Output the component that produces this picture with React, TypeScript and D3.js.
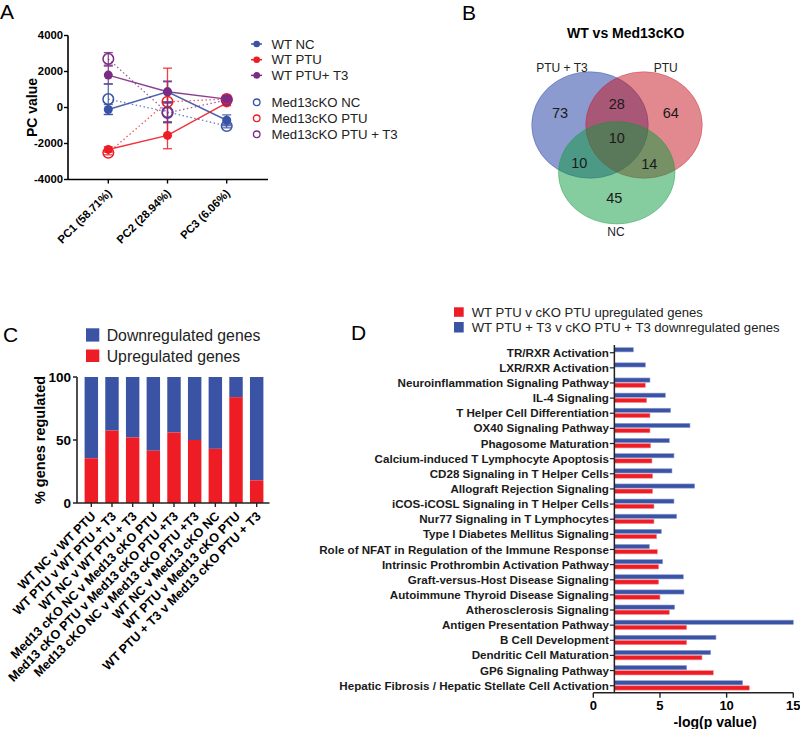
import React from "react";
import * as d3 from "d3";

const FONT = "'Liberation Sans', Arial, Helvetica, sans-serif";
const BLUE = "#3A53A4";
const RED = "#EE1D25";
const PURPLE = "#7B2B83";

// ---------- Panel A data ----------
const pcLabels = ["PC1 (58.71%)", "PC2 (28.94%)", "PC3 (6.06%)"];
const aTicks = [-4000, -2000, 0, 2000, 4000];
const wtNC = [-110, 870, -710];
const wtNCErr = [280, 560, 300];
const wtPTU = [-2330, -1550, 255];
const wtPTUErr = [150, 740, 150];
const wtPTUT3 = [1800, 870, 465];
const wtPTUT3Err = [500, 600, 150];
const koNC = [465, -245, -1030];
const koNCErr = [850, 550, 100];
const koPTU = [-2510, 315, 470];
const koPTUErr = [120, 1870, 200];
const koPTUT3 = [2700, -300, 420];
const koPTUT3Err = [350, 550, 120];
const aNames = ["WT NC", "WT PTU", "WT PTU+ T3", "Med13cKO NC", "Med13cKO PTU", "Med13cKO PTU + T3"];

// ---------- Panel B data ----------
const vennTitle = "WT vs Med13cKO";
const vennSets = ["PTU + T3", "PTU", "NC"];
const vennCounts = [73, 28, 64, 10, 10, 14, 45]; // T3only, T3&PTU, PTUonly, all, T3&NC, PTU&NC, NConly

// ---------- Panel C data ----------
const cLabels = [
  "WT NC v WT PTU",
  "WT PTU v WT PTU + T3",
  "WT NC v WT PTU + T3",
  "Med13 cKO NC v Med13 cKO PTU",
  "Med13 cKO PTU v Med13 cKO PTU +T3",
  "Med13 cKO NC v Med13 cKO PTU +T3",
  "WT NC v Med13 cKO NC",
  "WT PTU v Med13 cKO PTU",
  "WT PTU + T3 v Med13 cKO PTU + T3",
];
const cUp = [35.5, 57.5, 52, 41.5, 56, 50, 43, 84, 18];
const cTicks = [0, 50, 100];

// ---------- Panel D data ----------
const dPathways = [
  "TR/RXR Activation",
  "LXR/RXR Activation",
  "Neuroinflammation Signaling Pathway",
  "IL-4 Signaling",
  "T Helper Cell Differentiation",
  "OX40 Signaling Pathway",
  "Phagosome Maturation",
  "Calcium-induced T Lymphocyte Apoptosis",
  "CD28 Signaling in T Helper Cells",
  "Allograft Rejection Signaling",
  "iCOS-iCOSL Signaling in T Helper Cells",
  "Nur77 Signaling in T Lymphocytes",
  "Type I Diabetes Mellitus Signaling",
  "Role of NFAT in Regulation of the Immune Response",
  "Intrinsic Prothrombin Activation Pathway",
  "Graft-versus-Host Disease Signaling",
  "Autoimmune Thyroid Disease Signaling",
  "Atherosclerosis Signaling",
  "Antigen Presentation Pathway",
  "B Cell Development",
  "Dendritic Cell Maturation",
  "GP6 Signaling Pathway",
  "Hepatic Fibrosis / Hepatic Stellate Cell Activation",
];
const dDown = [3.0, 3.9, 4.25, 5.4, 5.8, 7.25, 5.7, 6.05, 5.9, 7.6, 6.05, 6.25, 5.1, 4.2, 5.2, 6.75, 6.8, 6.1, 15.0, 9.2, 8.8, 7.0, 11.2];
const dUp: (number | null)[] = [null, null, 3.9, 4.0, 4.25, 4.25, 4.3, 4.4, 4.45, 4.45, 4.55, 4.55, 4.75, 4.8, 4.9, 4.9, 5.0, 5.7, 7.0, 7.0, 8.15, 9.0, 11.7];
const dTicks = [0, 5, 10, 15];
const dLegend = ["WT PTU v cKO PTU upregulated genes", "WT PTU + T3 v cKO PTU + T3 downregulated genes"];

function PanelA() {
  const x = d3.scalePoint<number>().domain([0, 1, 2]).range([108.3, 226.7]);
  const y = d3.scaleLinear().domain([-4000, 4000]).range([179.5, 35.5]);
  const series = [
    { name: aNames[0], v: wtNC, e: wtNCErr, c: BLUE, open: false },
    { name: aNames[1], v: wtPTU, e: wtPTUErr, c: RED, open: false },
    { name: aNames[2], v: wtPTUT3, e: wtPTUT3Err, c: PURPLE, open: false },
    { name: aNames[3], v: koNC, e: koNCErr, c: BLUE, open: true },
    { name: aNames[4], v: koPTU, e: koPTUErr, c: RED, open: true },
    { name: aNames[5], v: koPTUT3, e: koPTUT3Err, c: PURPLE, open: true },
  ];
  const line = d3
    .line<number>()
    .x((_, i) => x(i)!)
    .y((d) => y(d));
  const axX = 68;
  const axEnd = 268;
  return (
    <g fontFamily={FONT}>
      <text x={0} y={18.5} fontSize={21}>A</text>
      {/* y axis */}
      <line x1={axX} x2={axX} y1={y(4000)} y2={y(-4000)} stroke="#000" strokeWidth={1.6} />
      {aTicks.map((t) => (
        <g key={t}>
          <line x1={axX - 4} x2={axX} y1={y(t)} y2={y(t)} stroke="#000" strokeWidth={1.4} />
          <text x={axX - 5} y={y(t)} dy="0.35em" textAnchor="end" fontSize={11.3} fontWeight="bold">{t}</text>
        </g>
      ))}
      <text transform={`translate(32,${y(0)}) rotate(-90)`} textAnchor="middle" dy="0.35em" fontSize={14} fontWeight="bold">PC value</text>
      {/* x axis */}
      <line x1={axX} x2={axEnd} y1={y(-4000)} y2={y(-4000)} stroke="#000" strokeWidth={1.6} />
      {pcLabels.map((l, i) => (
        <g key={l}>
          <line x1={x(i)} x2={x(i)} y1={y(-4000)} y2={y(-4000) + 4} stroke="#000" strokeWidth={1.4} />
          <text transform={`translate(${x(i)! + 4},${194}) rotate(-45)`} textAnchor="end" fontSize={11.3} fontWeight="bold">{l}</text>
        </g>
      ))}
      {/* lines */}
      {series.map((s) => (
        <path key={s.name + "l"} d={line(s.v)!} fill="none" stroke={s.c}
          strokeWidth={s.open ? 1.3 : 1.5}
          strokeDasharray={s.open ? "1.5,2.5" : undefined}
          strokeOpacity={s.open ? 0.75 : 0.9} />
      ))}
      {/* error bars */}
      {series.map((s) =>
        s.v.map((v, i) => (
          <g key={s.name + "e" + i} stroke={s.c} strokeWidth={1.3} strokeOpacity={0.85}>
            <line x1={x(i)} x2={x(i)} y1={y(v + s.e[i])} y2={y(v - s.e[i])} />
            <line x1={x(i)! - 4.5} x2={x(i)! + 4.5} y1={y(v + s.e[i])} y2={y(v + s.e[i])} />
            <line x1={x(i)! - 4.5} x2={x(i)! + 4.5} y1={y(v - s.e[i])} y2={y(v - s.e[i])} />
          </g>
        ))
      )}
      {/* markers */}
      {series.map((s) =>
        s.v.map((v, i) =>
          s.open ? (
            <circle key={s.name + "m" + i} cx={x(i)} cy={y(v)} r={5.3} fill="none" stroke={s.c} strokeWidth={1.5} />
          ) : (
            <circle key={s.name + "m" + i} cx={x(i)} cy={y(v)} r={4.5} fill={s.c} />
          )
        )
      )}
      {/* legend */}
      {series.map((s, i) => {
        const ly = i < 3 ? 44 + i * 15.7 : 102.3 + (i - 3) * 16;
        return (
          <g key={s.name + "lg"}>
            {s.open ? (
              <circle cx={256.7} cy={ly} r={3.3} fill="none" stroke={s.c} strokeWidth={1.3} />
            ) : (
              <>
                <line x1={251} x2={262} y1={ly} y2={ly} stroke={s.c} strokeWidth={1.5} />
                <circle cx={256.7} cy={ly} r={3.3} fill={s.c} />
              </>
            )}
            <text x={271.5} y={ly} dy="0.35em" fontSize={13.2} fill="#222">{s.name}</text>
          </g>
        );
      })}
    </g>
  );
}

function PanelB() {
  const circles = [
    { cx: 590, cy: 125, rx: 58.3, ry: 53.3, fill: "#19379F" },
    { cx: 644, cy: 125, rx: 58.3, ry: 53.3, fill: "#C5131F" },
    { cx: 616.7, cy: 172.8, rx: 58.3, ry: 51.2, fill: "#0B993D" },
  ];
  const countPos = [
    [560, 113.3],
    [616.7, 104],
    [670.7, 113.3],
    [616.7, 138.3],
    [579.3, 163.3],
    [649.3, 164.3],
    [614.3, 198.3],
  ];
  const labelPos = [
    [562, 67.7],
    [665.7, 67.7],
    [616, 231.7],
  ];
  return (
    <g fontFamily={FONT}>
      <text x={462} y={20} fontSize={21}>B</text>
      <text x={625.7} y={33} dy="0.35em" textAnchor="middle" fontSize={14} fontWeight="bold">{vennTitle}</text>
      {circles.map((c, i) => (
        <ellipse key={i} cx={c.cx} cy={c.cy} rx={c.rx} ry={c.ry} fill={c.fill} fillOpacity={0.5} stroke={c.fill} strokeOpacity={0.35} strokeWidth={1} />
      ))}
      {vennCounts.map((n, i) => (
        <text key={i} x={countPos[i][0]} y={countPos[i][1]} dy="0.35em" textAnchor="middle" fontSize={14.5} fill="#1a1a1a">{n}</text>
      ))}
      {vennSets.map((s, i) => (
        <text key={s} x={labelPos[i][0]} y={labelPos[i][1]} dy="0.35em" textAnchor="middle" fontSize={12} fill="#222">{s}</text>
      ))}
    </g>
  );
}

function PanelC() {
  const x = d3.scaleBand<string>().domain(cLabels).range([81.5, 266.5]).paddingInner(0.35).paddingOuter(0.15);
  const y = d3.scaleLinear().domain([0, 100]).range([503, 377]);
  const axX = 77;
  return (
    <g fontFamily={FONT}>
      <text x={3} y={342} fontSize={21}>C</text>
      {/* legend */}
      <rect x={86} y={328.3} width={13.3} height={13.3} fill={BLUE} />
      <text x={106.7} y={335} dy="0.35em" fontSize={15.8} fill="#222">Downregulated genes</text>
      <rect x={86} y={349.5} width={13.3} height={12.5} fill={RED} />
      <text x={106.7} y={356} dy="0.35em" fontSize={15.8} fill="#222">Upregulated genes</text>
      {/* bars */}
      {cLabels.map((l, i) => (
        <g key={l}>
          <rect x={x(l)} width={x.bandwidth()} y={y(100)} height={y(cUp[i]) - y(100)} fill={BLUE} />
          <rect x={x(l)} width={x.bandwidth()} y={y(cUp[i])} height={y(0) - y(cUp[i])} fill={RED} />
        </g>
      ))}
      {/* axes */}
      <line x1={axX} x2={axX} y1={y(100)} y2={y(0)} stroke="#222" strokeWidth={1.6} />
      {cTicks.map((t) => (
        <g key={t}>
          <line x1={axX - 4} x2={axX} y1={y(t)} y2={y(t)} stroke="#222" strokeWidth={1.5} />
          <text x={axX - 6} y={y(t)} dy="0.35em" textAnchor="end" fontSize={13.5} fontWeight="bold">{t}</text>
        </g>
      ))}
      <text transform={`translate(40,${y(50)}) rotate(-90)`} textAnchor="middle" dy="0.35em" fontSize={14.5} fontWeight="bold">% genes regulated</text>
      <line x1={axX} x2={269.5} y1={y(0)} y2={y(0)} stroke="#222" strokeWidth={1.6} />
      {cLabels.map((l) => {
        const cx = x(l)! + x.bandwidth() / 2;
        return (
          <g key={l + "t"}>
            <line x1={cx} x2={cx} y1={y(0)} y2={y(0) + 4} stroke="#222" strokeWidth={1.4} />
            <text transform={`translate(${cx + 5},${517}) rotate(-45)`} textAnchor="end" fontSize={12.6} fontWeight="bold">{l}</text>
          </g>
        );
      })}
    </g>
  );
}

function PanelD() {
  const x = d3.scaleLinear().domain([0, 15]).range([593.3, 793.3]);
  const y = d3.scalePoint<string>().domain(dPathways).range([352.7, 685.7]);
  const base = 1.58;
  const axY = 692.7;
  return (
    <g fontFamily={FONT}>
      <text x={351} y={340} fontSize={21}>D</text>
      {/* legend */}
      <rect x={454} y={307.3} width={9.7} height={9.5} fill={RED} />
      <text x={471.7} y={312.3} dy="0.35em" fontSize={13.1} fill="#222">{dLegend[0]}</text>
      <rect x={454} y={322} width={9.7} height={10.5} fill={BLUE} />
      <text x={471.7} y={327.7} dy="0.35em" fontSize={13.1} fill="#222">{dLegend[1]}</text>
      {/* bars */}
      {dPathways.map((p, i) => {
        const c = y(p)!;
        const u = dUp[i];
        return (
          <g key={p}>
            <rect x={x(base)} y={c - 5} width={x(dDown[i]) - x(base)} height={4.2} fill={BLUE} stroke="#8E9BD0" strokeWidth={0.6} />
            {u !== null && (
              <rect x={x(base)} y={c + 0.1} width={x(u) - x(base)} height={4.3} fill={RED} stroke="#F58A8E" strokeWidth={0.6} />
            )}
            <line x1={x(base) - 4.5} x2={x(base)} y1={c} y2={c} stroke="#222" strokeWidth={1.2} />
            <text x={x(base) - 5.5} y={c} dy="0.35em" textAnchor="end" fontSize={11.6} fontWeight="bold" fill="#1a1a1a">{p}</text>
          </g>
        );
      })}
      {/* axes */}
      <line x1={x(base)} x2={x(base)} y1={345} y2={axY} stroke="#222" strokeWidth={1.5} />
      <line x1={x(0)} x2={x(15)} y1={axY} y2={axY} stroke="#222" strokeWidth={1.5} />
      {dTicks.map((t) => (
        <g key={t}>
          <line x1={x(t)} x2={x(t)} y1={axY} y2={axY + 5} stroke="#222" strokeWidth={1.4} />
          <text x={x(t)} y={705} dy="0.35em" textAnchor="middle" fontSize={13} fontWeight="bold">{t}</text>
        </g>
      ))}
      <text x={715} y={722} dy="0.35em" textAnchor="middle" fontSize={14} fontWeight="bold">-log(p value)</text>
    </g>
  );
}

export default function App() {
  return (
    <svg width={800} height={729} viewBox="0 0 800 729" style={{ position: "absolute", left: 0, top: 0, background: "#fff" }}>
      <rect width={800} height={729} fill="#fff" />
      <PanelA />
      <PanelB />
      <PanelC />
      <PanelD />
    </svg>
  );
}
